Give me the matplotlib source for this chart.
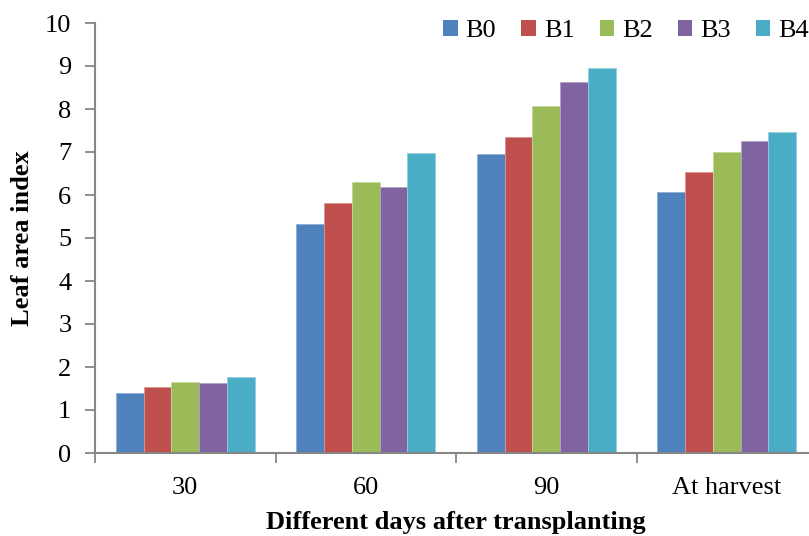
import numpy as np
import matplotlib
matplotlib.use('Agg')
import matplotlib.pyplot as plt
from matplotlib.patches import Patch

plt.rcParams['font.family'] = ['Liberation Serif', 'DejaVu Serif']

# data
categories = ['30', '60', '90', 'At harvest']
series = ['B0', 'B1', 'B2', 'B3', 'B4']
b0 = [1.40, 5.33, 6.96, 6.08]
b1 = [1.54, 5.82, 7.35, 6.53]
b2 = [1.65, 6.31, 8.06, 7.00]
b3 = [1.62, 6.19, 8.62, 7.25]
b4 = [1.77, 6.97, 8.95, 7.46]
colors = ['#4F81BD', '#C0504D', '#9BBB59', '#8064A2', '#4BACC6']
edges = ['#8FAED6', '#D99694', '#C3D69B', '#B3A2C7', '#93CDDD']

fs = 19

fig = plt.figure(figsize=(8.09, 5.36), dpi=100)
ax = fig.add_axes([95/809, 83/536, 722/809, 430/536])

x = np.arange(len(categories))
width = 0.154
allvals = [b0, b1, b2, b3, b4]
for i, vals in enumerate(allvals):
    ax.bar(x + (i - 2) * width, vals, width, color=colors[i],
           edgecolor=edges[i], linewidth=0.6, label=series[i], zorder=2)

ax.set_xlim(-0.5, len(categories) - 0.5)
ax.set_ylim(0, 10)
ax.set_yticks(range(0, 11))
ax.set_xticks(x)
ax.set_xticklabels(categories)
ax.set_xticks(np.arange(-0.5, len(categories)), minor=True)
ax.tick_params(axis='x', which='major', length=0, pad=17, labelsize=fs)
ax.tick_params(axis='x', which='minor', length=7, width=1.3, color='#868686', direction='out')
ax.tick_params(axis='y', length=7, width=1.3, color='#868686', pad=10, labelsize=fs)

for s in ['top', 'right']:
    ax.spines[s].set_visible(False)
for s in ['left', 'bottom']:
    ax.spines[s].set_color('#868686')
    ax.spines[s].set_linewidth(1.5)

ax.set_xlabel('Different days after transplanting', fontsize=fs, fontweight='bold', labelpad=9)
ax.set_ylabel('Leaf area index', fontsize=fs, fontweight='bold', labelpad=8)

handles = [Patch(facecolor=c) for c in colors]
fig.legend(handles, series, loc='center right', bbox_to_anchor=(1.0, 1 - 31/536),
           ncol=5, frameon=False, fontsize=fs, handlelength=0.55, handleheight=0.55,
           handletextpad=0.3, columnspacing=0.95, borderaxespad=0, borderpad=0)

fig.savefig('out.png', dpi=100)
